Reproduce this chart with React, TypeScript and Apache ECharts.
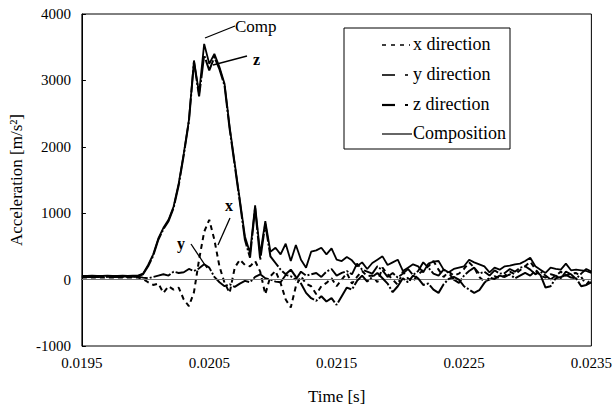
import React, { useEffect, useRef } from "react";
import * as echarts from "echarts";

const T0 = 0.0195;
const STEP = 0.00004;
const timeS: number[] = Array.from({ length: 101 }, (_, i) => +(T0 + i * STEP).toFixed(5));
const yTicks = [-1000, 0, 1000, 2000, 3000, 4000];

const xDir = [
  30, 30, 32, 30, 30, 32, 30, 30, 32, 30, 30, 30,
  10, -40, -80, -60, -200, -100, -150, -120, -300, -400, -190, 300,
  720, 900, 600, 200, -50, -200, 180, 300, 220, 200, 280, 120,
  -220, 50, 130, -50, -300, -420, -100, 50, -60, -100, -220, -100,
  -50, 20, -100, 0, 100, -60, 40, 130, 50, 60, -40, 180,
  80, 0, -80, 120, 20, -30, 80, 140, 200, 280, 150, 40,
  120, 60, 90, 160, 260, 180, 40, -30, 0, 50, 20, 60,
  120, 80, 140, 200, 270, 160, 60, 30, 80, 60, 120, 60,
  90, 100, 40, -80, 20,
];

const yDir = [
  40, 40, 42, 40, 40, 42, 40, 40, 42, 40, 42, 45,
  30, 20, 40, 60, 80, 60, 120, 100, 110, 160, 130, 170,
  230, 180, 40, -40, -100, -70, -110, -60, -20, -40, 40, 80,
  20, 0, -30, -40, 70, 50, 0, 120, 60, 80, 100, 40,
  120, 160, 60, 100, 130, 80, 240, 150, 120, 90, 200, 140,
  40, 100, 30, 90, 160, 70, 130, 260, 180, 90, 60, 150,
  100, 0, -50, 60, 130, 180, 90, 120, 60, 140, 90, 100,
  160, 120, 180, 200, 150, 80, 120, 60, 0, 60, 20, 120,
  80, 10, 90, 160, 120,
];

const zDir = [
  45, 45, 48, 45, 45, 48, 45, 45, 48, 45, 48, 50,
  80, 200, 360, 600, 760, 880, 1080, 1420, 1880, 2380, 3280, 2760,
  3380, 3150, 3350, 3170, 2920, 2270, 1720, 1170, 600, 330, 1080, 300,
  840, 350, 250, 150, 80, 150, 40, -60, -200, -280, -320, -250,
  -330, -280, -380, -250, -120, -150, -20, 60, -30, 40, 100, 20,
  -60, -190, -100, 20, -40, 60, 20, -80, -60, -150, -200, -70,
  10, 40, 0, -100, -150, -200, -160, -50, 30, 10, 60, 40,
  80, 20, 60, 100, 60, 130, 70, -120, -100, 20, 40, 70,
  30, 20, -100, -80, -40,
];

const comp = [
  55, 55, 58, 55, 55, 58, 55, 55, 58, 55, 58, 60,
  90, 220, 380, 620, 780, 900, 1100, 1450, 1900, 2400, 3300, 2800,
  3550, 3250, 3400, 3200, 2950, 2300, 1750, 1200, 650, 400, 1120, 380,
  880, 420, 480, 380, 540, 280, 520, 300, 180, 420, 440, 480,
  380, 470, 300, 280, 340, 290, 200, 260, 160, 250, 300, 350,
  220, 260, 300, 130, 180, 230, 200, 110, 240, 270, 280, 150,
  110, 160, 180, 200, 300, 260, 230, 200, 110, 180, 150, 200,
  210, 230, 240, 280, 330, 200, 150, 100, 180, 160, 150, 240,
  140, 150, 140, 130, 100,
];

const FONT = "Liberation Serif, Times New Roman, serif";
const INK = "#000";

export default function App() {
  const ref = useRef<HTMLDivElement>(null);
  useEffect(() => {
    const chart = echarts.init(ref.current!, null, { renderer: "svg" });
    const toU = (t: number) => (t - T0) * 1000;
    const mk = (arr: number[]) => arr.map((v, i) => [toU(timeS[i]), v]);
    const lineSeries = (name: string, data: number[], dash: any, width: number, z: number) => ({
      name,
      type: "line",
      data: mk(data),
      showSymbol: false,
      symbol: "none",
      z,
      lineStyle: { color: INK, width, type: dash },
    });

    const legendRows = [
      { label: "x direction", y: 45 },
      { label: "y direction", y: 75 },
      { label: "z direction", y: 105 },
      { label: "Composition", y: 134 },
    ];

    chart.setOption({
      animation: false,
      backgroundColor: "#fff",
      textStyle: { fontFamily: FONT, color: INK },
      grid: {
        left: 75,
        right: 19,
        top: 14,
        bottom: 63,
        show: true,
        borderColor: INK,
        borderWidth: 1,
      },
      xAxis: {
        type: "value",
        min: 0,
        max: 4,
        interval: 1,
        name: "Time [s]",
        nameLocation: "middle",
        nameGap: 42,
        nameTextStyle: { fontFamily: FONT, fontSize: 17, color: INK },
        axisLine: { show: true, lineStyle: { color: INK, width: 1 } },
        axisTick: { show: false },
        splitLine: { show: false },
        axisLabel: {
          fontFamily: FONT,
          fontSize: 15,
          color: INK,
          margin: 9,
          formatter: (v: number) => (T0 + v / 1000).toFixed(4),
        },
      },
      yAxis: {
        type: "value",
        min: yTicks[0],
        max: yTicks[yTicks.length - 1],
        interval: 1000,
        name: "Acceleration [m/s²]",
        nameLocation: "middle",
        nameGap: 47,
        nameTextStyle: { fontFamily: FONT, fontSize: 17, color: INK },
        axisLine: { show: true, lineStyle: { color: INK, width: 1 } },
        axisTick: { show: true, inside: true, length: 4, lineStyle: { color: INK } },
        splitLine: { show: false },
        axisLabel: {
          fontFamily: FONT,
          fontSize: 15,
          color: INK,
          margin: 11,
          formatter: (v: number) => String(v),
        },
      },
      series: [
        {
          ...lineSeries("x direction", xDir, [5, 4], 2, 3),
          markLine: {
            silent: true,
            symbol: "none",
            label: { show: false },
            lineStyle: { color: "#777", width: 1, type: "solid" },
            data: [{ yAxis: 0 }],
          },
        },
        lineSeries("y direction", yDir, [18, 2, 2, 2], 1.9, 4),
        lineSeries("z direction", zDir, [22, 2, 2, 2], 2, 5),
        lineSeries("Composition", comp, "solid", 1.8, 6),
      ],
      graphic: [
        // annotations
        { type: "text", left: 235, top: 18, style: { text: "Comp", font: `17px ${FONT}`, fill: INK } },
        { type: "line", shape: { x1: 205, y1: 38, x2: 235, y2: 26 }, style: { stroke: INK, lineWidth: 1.3 } },
        { type: "text", left: 253, top: 51, style: { text: "z", font: `bold 16px ${FONT}`, fill: INK } },
        { type: "line", shape: { x1: 213, y1: 65, x2: 247, y2: 56 }, style: { stroke: INK, lineWidth: 1.3 } },
        { type: "text", left: 225, top: 197, style: { text: "x", font: `bold 16px ${FONT}`, fill: INK } },
        { type: "line", shape: { x1: 230, y1: 218, x2: 218, y2: 245 }, style: { stroke: INK, lineWidth: 1.3 } },
        { type: "text", left: 177, top: 235, style: { text: "y", font: `bold 16px ${FONT}`, fill: INK } },
        { type: "line", shape: { x1: 191, y1: 244, x2: 207, y2: 268 }, style: { stroke: INK, lineWidth: 1.3 } },
        // legend
        {
          type: "rect",
          shape: { x: 344, y: 28, width: 166, height: 121 },
          style: { fill: "#fff", stroke: INK, lineWidth: 1 },
          z: 10,
        },
        { type: "line", z: 11, shape: { x1: 382, y1: 45, x2: 410, y2: 45 }, style: { stroke: INK, lineWidth: 1.6, lineDash: [4, 5] } },
        { type: "line", z: 11, shape: { x1: 382, y1: 75, x2: 395, y2: 75 }, style: { stroke: INK, lineWidth: 1.6 } },
        { type: "line", z: 11, shape: { x1: 405, y1: 75, x2: 408, y2: 75 }, style: { stroke: INK, lineWidth: 1.6 } },
        { type: "line", z: 11, shape: { x1: 382, y1: 105, x2: 395, y2: 105 }, style: { stroke: INK, lineWidth: 2.2 } },
        { type: "line", z: 11, shape: { x1: 405, y1: 105, x2: 408, y2: 105 }, style: { stroke: INK, lineWidth: 2 } },
        { type: "line", z: 11, shape: { x1: 382, y1: 134, x2: 412, y2: 134 }, style: { stroke: INK, lineWidth: 1.2 } },
        ...legendRows.map((r) => ({
          type: "text",
          z: 11,
          left: 413,
          top: r.y - 10,
          style: { text: r.label, font: `18px ${FONT}`, fill: INK },
        })),
      ],
    });
    return () => chart.dispose();
  }, []);
  return (
    <div
      ref={ref}
      style={{ position: "absolute", left: 0, top: 0, width: 615, height: 410 }}
    />
  );
}
